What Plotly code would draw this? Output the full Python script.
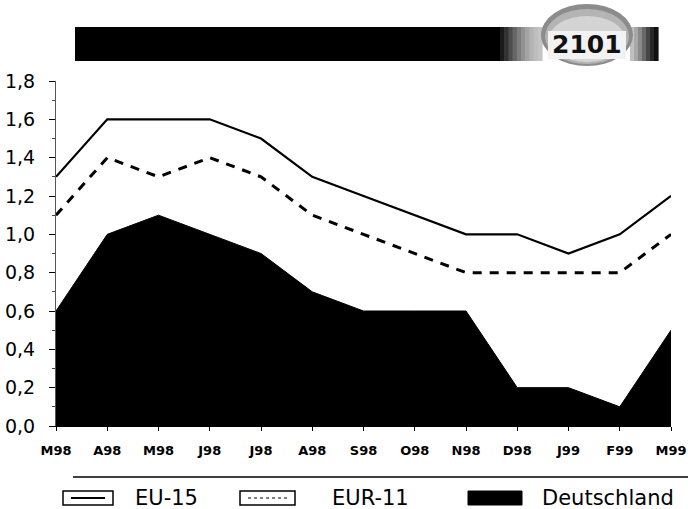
import plotly.graph_objects as go

# Monthly values, March 1998 - March 1999
months = ["M98", "A98", "M98", "J98", "J98", "A98", "S98", "O98",
          "N98", "D98", "J99", "F99", "M99"]
eu15 = [1.3, 1.6, 1.6, 1.6, 1.5, 1.3, 1.2, 1.1, 1.0, 1.0, 0.9, 1.0, 1.2]
eur11 = [1.1, 1.4, 1.3, 1.4, 1.3, 1.1, 1.0, 0.9, 0.8, 0.8, 0.8, 0.8, 1.0]
deutschland = [0.6, 1.0, 1.1, 1.0, 0.9, 0.7, 0.6, 0.6, 0.6, 0.2, 0.2, 0.1, 0.5]
series_names = ["EU-15", "EUR-11", "Deutschland"]
chart_id = "2101"

W, H = 688, 509
ML, MR, MT, MB = 56, 17, 81, 83
PW, PH = W - ML - MR, H - MT - MB

def px(x):
    return (x - ML) / PW

def py(y):
    return (H - MB - y) / PH

xs = list(range(len(months)))

fig = go.Figure()
fig.add_trace(go.Scatter(x=xs, y=deutschland, mode="lines", fill="tozeroy",
                         fillcolor="black", line=dict(color="black", width=1),
                         name=series_names[2], showlegend=False))
fig.add_trace(go.Scatter(x=xs, y=eur11, mode="lines",
                         line=dict(color="black", width=3, dash="9px,8px"),
                         name=series_names[1], showlegend=False))
fig.add_trace(go.Scatter(x=xs, y=eu15, mode="lines",
                         line=dict(color="black", width=2.2),
                         name=series_names[0], showlegend=False))

shapes = []
annotations = []

def prect(x0, x1, y0, y1, color, layer="above"):
    shapes.append(dict(type="rect", xref="paper", yref="paper",
                       x0=px(x0), x1=px(x1), y0=py(y1), y1=py(y0),
                       fillcolor=color, line=dict(width=0), layer=layer))

# header bar with gradient towards the badge
bar_top, bar_bot = 27, 61
prect(75, 502, bar_top, bar_bot, "black")
left_steps = ["#1a1a1a", "#333", "#4d4d4d", "#666", "#7d7d7d", "#929292",
              "#a4a4a4", "#b3b3b3", "#bdbdbd", "#c4c4c4"]
step_w = 42 / len(left_steps)
for i, c in enumerate(left_steps):
    prect(500 + i * step_w, 500 + (i + 1) * step_w + 0.6, bar_top, bar_bot, c)
right_steps = ["#c0c0c0", "#a8a8a8", "#8a8a8a", "#686868", "#474747", "#282828", "#101010"]
step_w = 28 / len(right_steps)
for i, c in enumerate(right_steps):
    prect(630 + i * step_w, 630 + (i + 1) * step_w + 0.6, bar_top, bar_bot, c)

# round badge
shapes.append(dict(type="circle", xref="paper", yref="paper",
                   x0=px(541), x1=px(633), y0=py(66), y1=py(4),
                   fillcolor="#8c8c8c", line=dict(width=0), layer="above"))
shapes.append(dict(type="circle", xref="paper", yref="paper",
                   x0=px(545), x1=px(629), y0=py(64), y1=py(9),
                   fillcolor="#b4b4b4", line=dict(width=0), layer="above"))
shapes.append(dict(type="circle", xref="paper", yref="paper",
                   x0=px(549), x1=px(625), y0=py(62), y1=py(16),
                   fillcolor="#d4d4d4", line=dict(width=0), layer="above"))
prect(548, 626, 31, 59, "#f2f2f2")
annotations.append(dict(text="<b>" + chart_id + "</b>", xref="paper", yref="paper",
                        x=px(587), y=py(45), xanchor="center", yanchor="middle",
                        showarrow=False,
                        font=dict(family="DejaVu Sans", size=25, color="#111")))

# legend rule and entries
shapes.append(dict(type="line", xref="paper", yref="paper",
                   x0=px(73), x1=px(688), y0=py(477), y1=py(477),
                   line=dict(color="black", width=1.5)))
box_y0, box_y1 = 491, 505
legend_boxes = [(63, 113), (240, 295), (468, 522)]
legend_text_x = [133, 330, 540]
for i, (bx0, bx1) in enumerate(legend_boxes):
    if i < 2:
        shapes.append(dict(type="rect", xref="paper", yref="paper",
                           x0=px(bx0), x1=px(bx1), y0=py(box_y1), y1=py(box_y0),
                           fillcolor="white", line=dict(color="black", width=1.5)))
        shapes.append(dict(type="line", xref="paper", yref="paper",
                           x0=px(bx0 + 8), x1=px(bx1 - 8),
                           y0=py((box_y0 + box_y1) / 2), y1=py((box_y0 + box_y1) / 2),
                           line=dict(color="black", width=2 if i == 0 else 1,
                                     dash="solid" if i == 0 else "dot")))
    else:
        shapes.append(dict(type="rect", xref="paper", yref="paper",
                           x0=px(bx0), x1=px(bx1), y0=py(box_y1), y1=py(box_y0),
                           fillcolor="black", line=dict(color="black", width=1)))
    annotations.append(dict(text=series_names[i], xref="paper", yref="paper",
                            x=px(legend_text_x[i]), y=py(498), xanchor="left",
                            yanchor="middle", showarrow=False,
                            font=dict(family="DejaVu Sans", size=21, color="black")))

fig.update_layout(
    width=W, height=H,
    margin=dict(l=ML, r=MR, t=MT, b=MB),
    paper_bgcolor="white", plot_bgcolor="white",
    separators=",.",
    shapes=shapes, annotations=annotations,
    xaxis=dict(range=[0, len(months) - 1], tickmode="array", tickvals=xs,
               ticktext=["<b>" + m + "</b>" for m in months],
               automargin=False, ticklabeloverflow="allow",
               showgrid=False, zeroline=False, showline=True,
               linecolor="black", linewidth=1, ticks="outside", ticklen=4,
               tickcolor="black", ticklabelstandoff=8,
               tickfont=dict(family="DejaVu Sans", size=13, color="black")),
    yaxis=dict(range=[0, 1.8], dtick=0.2, tickformat=".1f",
               automargin=False,
               showgrid=False, zeroline=False, showline=True,
               linecolor="#555", linewidth=1, ticks="outside", ticklen=6,
               tickcolor="black", ticklabelstandoff=10,
               minor=dict(ticks="outside", ticklen=3, dtick=0.1, tickcolor="#444"),
               tickfont=dict(family="DejaVu Sans", size=19, color="black")),
)

fig.write_html("out.html")
